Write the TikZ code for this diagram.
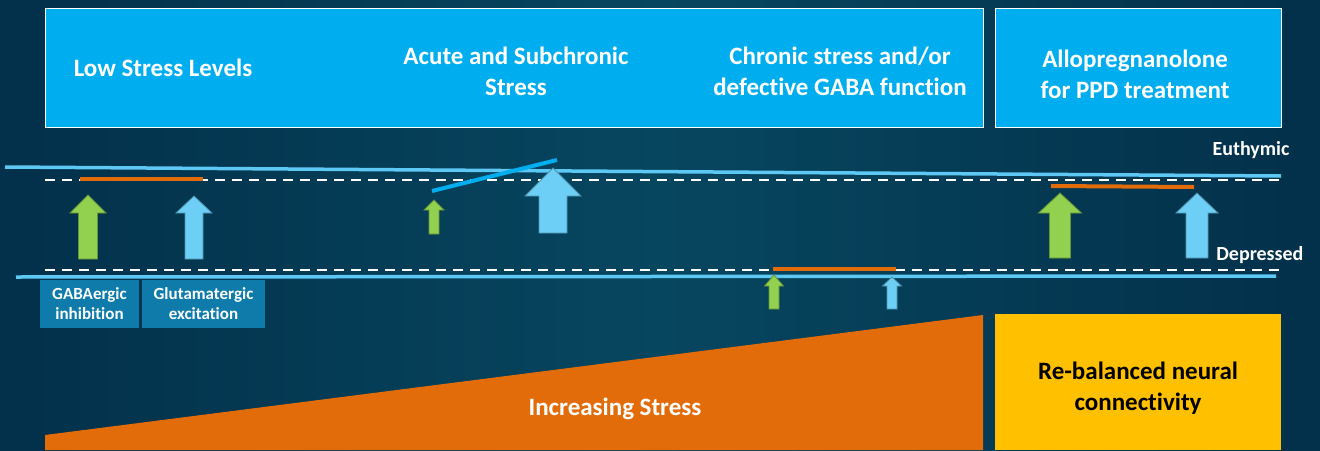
\documentclass[tikz,border=0pt]{standalone}
\usepackage{fontspec}
\setmainfont{Carlito}[Ligatures=NoCommon]
\usetikzlibrary{positioning}

\definecolor{bgedge}{HTML}{03304A}
\definecolor{bgmid}{HTML}{07465F}
\definecolor{boxcyan}{HTML}{00ADEE}
\definecolor{levelblue}{HTML}{5EC8F5}
\definecolor{glublue}{HTML}{6DCFF6}
\definecolor{gabagreen}{HTML}{92D050}
\definecolor{stressorange}{HTML}{E36C0A}
\definecolor{labelblue}{HTML}{0E7BAB}
\definecolor{gold}{HTML}{FFC000}

\tikzset{
  headtext/.style={text=white, font=\bfseries\fontsize{25}{31}\selectfont, align=center},
  leveltext/.style={text=white, font=\bfseries\fontsize{20}{24}\selectfont},
  celltext/.style={text=white, font=\bfseries\fontsize{17}{20}\selectfont, align=center},
  levelline/.style={levelblue, line width=3.5pt},
  bound/.style={white, dash pattern=on 10pt off 7pt, line width=2.5pt},
  balance/.style={stressorange, line width=4pt},
}

% up arrow: colour, x, tip, neck, foot, half head, half shaft
\newcommand{\blockarrow}[7]{%
  \filldraw[fill=#1, draw=#1!70!black, line width=0.8pt]
    (#2,#3) -- (#2+#6,#4) -- (#2+#7,#4) -- (#2+#7,#5)
    -- (#2-#7,#5) -- (#2-#7,#4) -- (#2-#6,#4) -- cycle;}

\begin{document}
\begin{tikzpicture}[x=1pt, y=-1pt]
  \shade[left color=bgedge, right color=bgedge, middle color=bgmid]
    (0,0) rectangle (1320,450);

  % header boxes
  \filldraw[fill=boxcyan, draw=white, line width=0.8pt] (45,8) rectangle (983,127);
  \filldraw[fill=boxcyan, draw=white, line width=0.8pt] (995,8) rectangle (1281,127);
  \node[headtext] (low) at (163,68) {Low Stress Levels};
  \node[headtext] (acute) at (516,71) {Acute and Subchronic\\Stress};
  \node[headtext] (chronic) at (840,71) {Chronic stress and/or\\defective GABA function};
  \node[headtext] (allo) at (1135,74) {Allopregnanolone\\for PPD treatment};

  % mood levels
  \draw[levelline] (5,167) -- (1281,176);
  \draw[bound] (45,180) -- (1281,180);
  \draw[bound] (45,270) -- (1281,270);
  \draw[levelline] (16,277) -- (1276,276);
  \node[leveltext, anchor=east] (euth) at (1293,150) {Euthymic};
  \node[leveltext, anchor=east] (depr) at (1307,255) {Depressed};

  % balance bars
  \draw[balance] (80,179) -- (203,179);
  \draw[boxcyan, line width=4pt] (432,191) -- (557,160);
  \draw[balance] (773,269) -- (896,269);
  \draw[balance] (1051,186) -- (1194,187);

  % inhibition / excitation
  \blockarrow{gabagreen}{88}{195}{213}{259}{18}{9.5}
  \blockarrow{glublue}{194}{196}{213}{259}{18}{9}
  \blockarrow{gabagreen}{434}{200}{210}{234}{10}{5}
  \blockarrow{glublue}{553}{168}{196}{233}{28}{14}
  \blockarrow{gabagreen}{774}{275}{286}{309}{9.5}{5}
  \blockarrow{glublue}{892}{277}{286}{309}{9.5}{5}
  \blockarrow{gabagreen}{1060}{193}{213}{258}{21.5}{10.5}
  \blockarrow{glublue}{1197}{193}{213}{258}{21}{11}

  \fill[labelblue] (40,280) rectangle (139,328);
  \fill[labelblue] (142,280) rectangle (265,328);
  \node[celltext] (gaba) at (89.5,304) {GABAergic\\inhibition};
  \node[celltext] (glu) at (203.5,304) {Glutamatergic\\excitation};

  % stress ramp and outcome
  \fill[stressorange] (45,435) -- (983,315) -- (983,450) -- (45,450) -- cycle;
  \node[headtext] (incr) at (615,409) {Increasing Stress};
  \fill[gold] (995,314) rectangle (1281,450);
  \node[headtext, text=black] (rebal) at (1138,388) {Re-balanced neural\\connectivity};
\end{tikzpicture}
\end{document}
